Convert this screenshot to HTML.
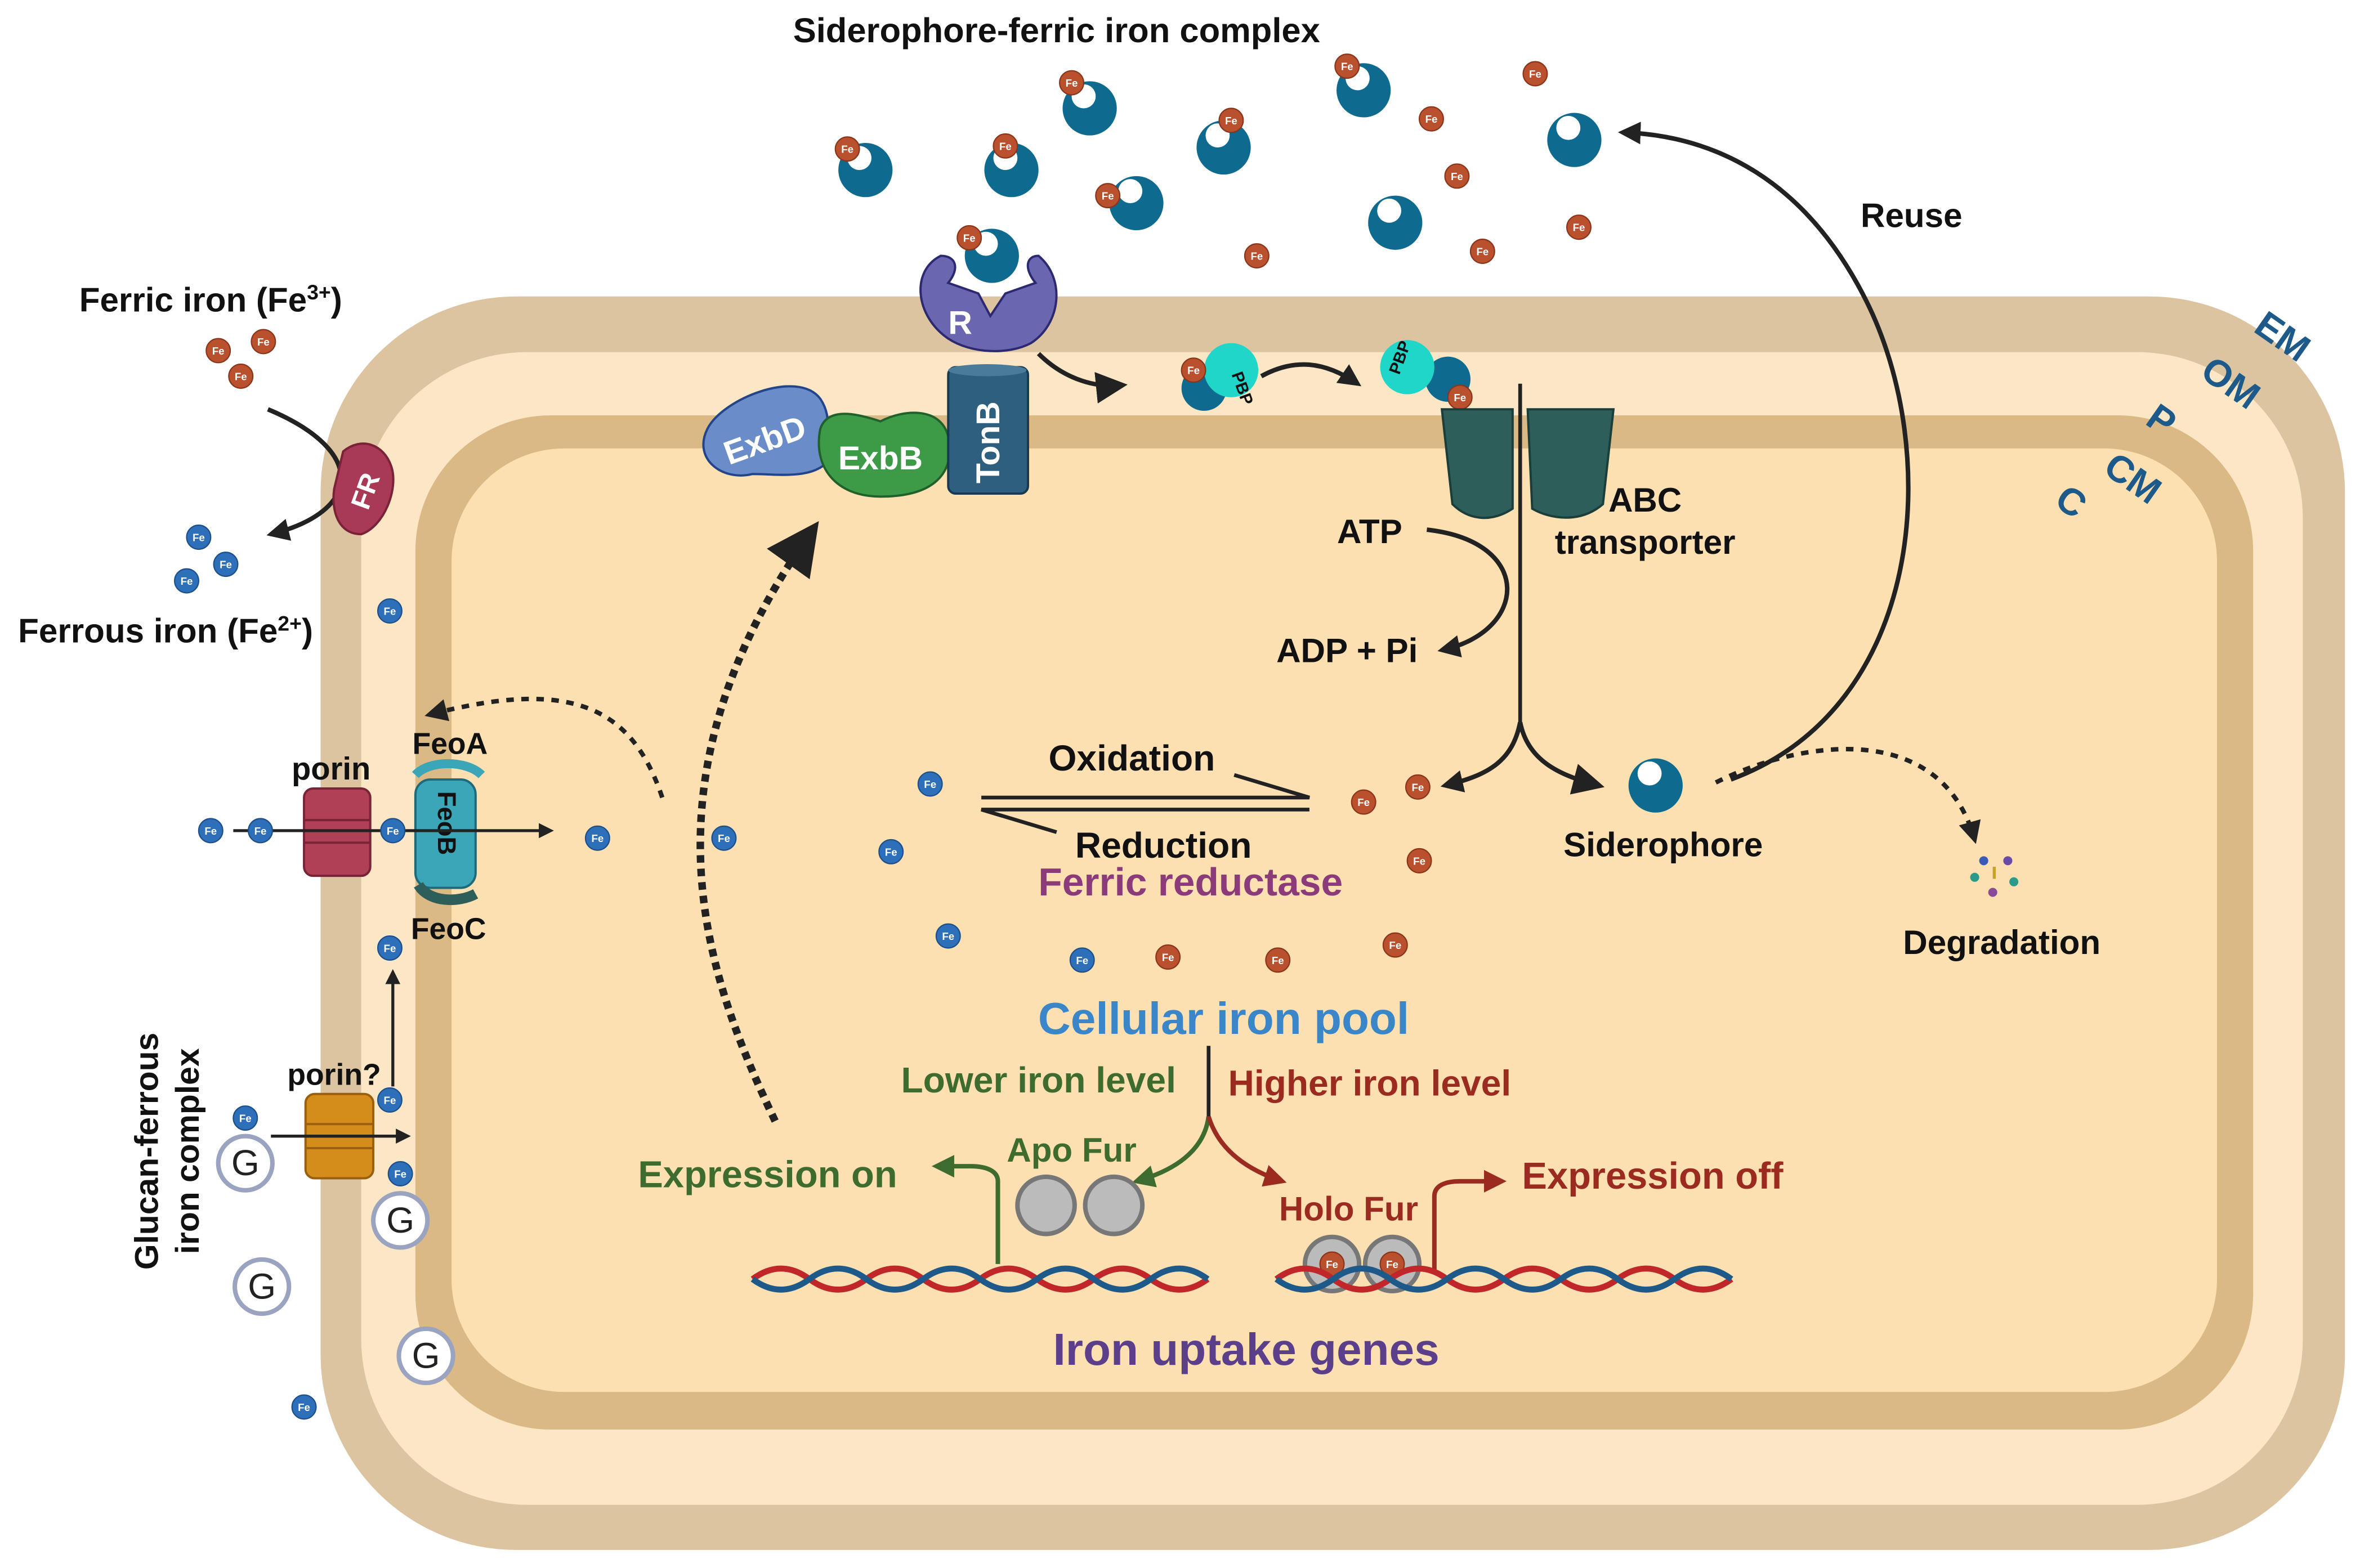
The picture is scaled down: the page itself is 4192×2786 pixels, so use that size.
<!DOCTYPE html>
<html><head><meta charset="utf-8"><style>
html,body{margin:0;padding:0;background:#fff}
svg{display:block}
text{font-family:"Liberation Sans",sans-serif;font-weight:bold}
</style></head><body>
<svg width="4192" height="2786" viewBox="0 0 1568 1042" preserveAspectRatio="none" xmlns="http://www.w3.org/2000/svg">
<defs>
<marker id="ah" viewBox="0 0 10 10" refX="8" refY="5" markerWidth="5" markerHeight="5" orient="auto"><path d="M0,0L10,5L0,10z" fill="#222"/></marker>
<marker id="ahs" viewBox="0 0 10 10" refX="8" refY="5" markerWidth="7" markerHeight="7" orient="auto"><path d="M0,0L10,5L0,10z" fill="#222"/></marker>
<marker id="ag" viewBox="0 0 10 10" refX="8" refY="5" markerWidth="5" markerHeight="5" orient="auto"><path d="M0,0L10,5L0,10z" fill="#3e6b2e"/></marker>
<marker id="ar" viewBox="0 0 10 10" refX="8" refY="5" markerWidth="5" markerHeight="5" orient="auto"><path d="M0,0L10,5L0,10z" fill="#9b2a20"/></marker>
<g id="fer"><circle r="8" fill="#b9502e" stroke="#8a3418" stroke-width="0.8"/><text x="0" y="2.6" font-size="7" fill="#fff" text-anchor="middle">Fe</text></g>
<g id="feb"><circle r="8" fill="#2d6fb8" stroke="#1c4f8a" stroke-width="0.8"/><text x="0" y="2.6" font-size="7" fill="#fff" text-anchor="middle">Fe</text></g>
<g id="sid"><circle r="18" fill="#0e6a8e"/><circle cx="-4" cy="-8" r="8" fill="#fff"/></g>
<g id="G"><circle r="18" fill="#fff" stroke="#9aa3bf" stroke-width="3"/><text y="8" font-size="24" text-anchor="middle" fill="#222" style="font-weight:normal">G</text></g>
</defs>
<rect x="213" y="197" width="1345" height="833" rx="130" fill="#dcc4a0"/>
<rect x="240" y="234" width="1290" height="766" rx="110" fill="#fbe6c6"/>
<rect x="276" y="276" width="1221" height="674" rx="90" fill="#dbb985"/>
<rect x="300" y="298" width="1173" height="627" rx="75" fill="#fde0b1"/>
<g fill="#1d5a8a" font-size="25">
<text x="1495" y="232" transform="rotate(35 1515 228)">EM</text>
<text x="1460" y="264" transform="rotate(35 1483 258)">OM</text>
<text x="1428" y="290" transform="rotate(35 1440 280)">P</text>
<text x="1398" y="328" transform="rotate(35 1420 318)">CM</text>
<text x="1368" y="344" transform="rotate(35 1380 333)">C</text>
</g>
<text x="702" y="28" font-size="23" text-anchor="middle" fill="#111">Siderophore-ferric iron complex</text>
<use href="#sid" x="575" y="113"/><use href="#sid" x="672" y="113"/><use href="#sid" x="724" y="72"/><use href="#sid" x="755" y="135"/><use href="#sid" x="813" y="98"/><use href="#sid" x="906" y="60"/><use href="#sid" x="927" y="148"/><use href="#sid" x="1046" y="93"/>
<use href="#fer" x="563" y="99"/><use href="#fer" x="668" y="97"/><use href="#fer" x="712" y="55"/><use href="#fer" x="736" y="130"/><use href="#fer" x="818" y="80"/><use href="#fer" x="895" y="44"/><use href="#fer" x="951" y="79"/><use href="#fer" x="968" y="117"/><use href="#fer" x="985" y="167"/><use href="#fer" x="1020" y="49"/><use href="#fer" x="1049" y="151"/><use href="#fer" x="835" y="170"/>
<path d="M1150,518 C1280,470 1290,300 1240,200 C1200,120 1140,90 1078,88" fill="none" stroke="#222" stroke-width="3" marker-end="url(#ah)"/>
<text x="1270" y="151" font-size="22.5" text-anchor="middle" fill="#111">Reuse</text>
<text x="140" y="207" font-size="22.5" text-anchor="middle" fill="#111">Ferric iron (Fe<tspan font-size="14" dy="-8">3+</tspan><tspan dy="8">)</tspan></text>
<use href="#fer" x="145" y="233"/><use href="#fer" x="175" y="227"/><use href="#fer" x="160" y="250"/>
<path d="M178,272 C245,300 240,340 180,355" fill="none" stroke="#222" stroke-width="3" marker-end="url(#ah)"/>
<path d="M228,300 C240,290 255,295 260,310 C265,325 255,350 240,355 C225,355 220,340 222,325z" fill="#a93a55" stroke="#7a2238" stroke-width="1.5"/>
<text x="242" y="333" font-size="18" fill="#fff" text-anchor="middle" transform="rotate(-70 242 326)">FR</text>
<use href="#feb" x="132" y="357"/><use href="#feb" x="150" y="375"/><use href="#feb" x="124" y="386"/>
<text x="110" y="427" font-size="22.5" text-anchor="middle" fill="#111">Ferrous iron (Fe<tspan font-size="14" dy="-8">2+</tspan><tspan dy="8">)</tspan></text>
<use href="#feb" x="259" y="406"/>
<path d="M625,170 C605,180 608,210 630,225 C645,235 670,236 685,228 C705,215 708,185 690,170 C682,170 680,178 688,188 L668,195 L658,210 L650,195 L630,188 C638,178 635,170 625,170z" fill="#6a66b0" stroke="#2b2a70" stroke-width="1.5"/>
<use href="#sid" x="659" y="170"/>
<use href="#fer" x="644" y="158"/>
<text x="638" y="222" font-size="22" fill="#fff" text-anchor="middle">R</text>
<path d="M470,285 C480,265 530,245 545,265 C555,280 545,290 555,300 C545,320 520,315 500,315 C480,320 460,305 470,285z" fill="#6a8cc8" stroke="#22448a" stroke-width="1.5"/>
<text x="508" y="300" font-size="22" fill="#fff" text-anchor="middle" transform="rotate(-20 508 292)">ExbD</text>
<path d="M545,285 C550,270 570,275 585,280 C600,272 625,270 630,290 C635,315 620,330 585,330 C555,330 540,310 545,285z" fill="#3d9b48" stroke="#20602a" stroke-width="1.5"/>
<text x="585" y="312" font-size="22" fill="#fff" text-anchor="middle">ExbB</text>
<rect x="630" y="244" width="53" height="84" rx="5" fill="#2f5f7f" stroke="#173a52" stroke-width="1.5"/>
<ellipse cx="656" cy="246" rx="26" ry="4" fill="#4a7c9a"/>
<text x="656" y="286" font-size="22" fill="#fff" text-anchor="middle" transform="rotate(-90 664 286)">TonB</text>
<path d="M690,235 C705,250 725,258 745,256" fill="none" stroke="#222" stroke-width="3" marker-end="url(#ahs)"/>
<circle cx="800" cy="258" r="15" fill="#0e6a8e"/><circle cx="818" cy="246" r="18" fill="#1fd6c8"/>
<use href="#fer" x="793" y="246"/>
<text x="820" y="250" font-size="11" fill="#111" transform="rotate(70 820 248)">PBP</text>
<path d="M838,250 C860,238 880,240 902,255" fill="none" stroke="#222" stroke-width="3" marker-end="url(#ah)"/>
<circle cx="962" cy="252" r="15" fill="#0e6a8e"/><circle cx="935" cy="244" r="18" fill="#1fd6c8"/>
<use href="#fer" x="970" y="264"/>
<text x="928" y="245" font-size="11" fill="#111" transform="rotate(-70 932 246)">PBP</text>
<path d="M958,272 L1005,272 L1005,338 C990,348 975,345 965,335z" fill="#2e5e5a" stroke="#1a3e3a" stroke-width="1.5"/>
<path d="M1015,272 L1072,272 L1065,335 C1050,348 1030,345 1018,338z" fill="#2e5e5a" stroke="#1a3e3a" stroke-width="1.5"/>
<line x1="1010" y1="255" x2="1010" y2="480" stroke="#222" stroke-width="2.5"/>
<path d="M1010,480 C1005,505 990,515 960,522" fill="none" stroke="#222" stroke-width="3" marker-end="url(#ah)"/>
<path d="M1010,480 C1015,505 1035,515 1062,522" fill="none" stroke="#222" stroke-width="3" marker-end="url(#ahs)"/>
<text x="1093" y="340" font-size="22.5" text-anchor="middle" fill="#111">ABC</text>
<text x="1093" y="368" font-size="22.5" text-anchor="middle" fill="#111">transporter</text>
<text x="910" y="361" font-size="22.5" text-anchor="middle" fill="#111">ATP</text>
<path d="M948,352 C1020,360 1015,420 958,432" fill="none" stroke="#222" stroke-width="3" marker-end="url(#ah)"/>
<text x="895" y="440" font-size="22.5" text-anchor="middle" fill="#111">ADP + Pi</text>
<path d="M652,530 L870,530 L820,515" fill="none" stroke="#222" stroke-width="2.5"/>
<path d="M870,538 L652,538 L702,553" fill="none" stroke="#222" stroke-width="2.5"/>
<text x="752" y="512" font-size="24" text-anchor="middle" fill="#111">Oxidation</text>
<text x="773" y="570" font-size="24" text-anchor="middle" fill="#111">Reduction</text>
<text x="791" y="595" font-size="26" text-anchor="middle" fill="#8b3a7a">Ferric reductase</text>
<use href="#feb" x="618" y="521"/><use href="#feb" x="592" y="566"/><use href="#feb" x="630" y="622"/><use href="#feb" x="719" y="638"/>
<use href="#fer" x="906" y="533"/><use href="#fer" x="942" y="523"/><use href="#fer" x="943" y="572"/><use href="#fer" x="776" y="636"/><use href="#fer" x="849" y="638"/><use href="#fer" x="927" y="628"/>
<use href="#sid" x="1100" y="522"/>
<text x="1105" y="569" font-size="22.5" text-anchor="middle" fill="#111">Siderophore</text>
<path d="M1140,520 C1200,490 1290,480 1312,558" fill="none" stroke="#222" stroke-width="3" stroke-dasharray="5,5" marker-end="url(#ah)"/>
<circle cx="1312" cy="583" r="3" fill="#2a9a8a"/><circle cx="1318" cy="572" r="3" fill="#3a5ab8"/><circle cx="1334" cy="572" r="3" fill="#6a4aa8"/><circle cx="1338" cy="586" r="3" fill="#2a9a8a"/><circle cx="1324" cy="593" r="3" fill="#8a4a9a"/><rect x="1324" y="576" width="2" height="8" fill="#c8a02a"/>
<text x="1330" y="634" font-size="22.5" text-anchor="middle" fill="#111">Degradation</text>
<text x="813" y="687" font-size="30" text-anchor="middle" fill="#3a86c8">Cellular iron pool</text>
<text x="690" y="726" font-size="24" text-anchor="middle" fill="#3e6b2e">Lower iron level</text>
<text x="910" y="728" font-size="24" text-anchor="middle" fill="#9b2a20">Higher iron level</text>
<line x1="803" y1="695" x2="803" y2="742" stroke="#222" stroke-width="2.5"/>
<path d="M803,742 C800,765 780,778 755,785" fill="none" stroke="#3e6b2e" stroke-width="3" marker-end="url(#ag)"/>
<path d="M803,742 C810,765 830,778 852,785" fill="none" stroke="#9b2a20" stroke-width="3" marker-end="url(#ar)"/>
<text x="712" y="772" font-size="22.5" text-anchor="middle" fill="#3e6b2e">Apo Fur</text>
<circle cx="695" cy="801" r="19" fill="#bbb" stroke="#777" stroke-width="3"/><circle cx="740" cy="801" r="19" fill="#bbb" stroke="#777" stroke-width="3"/>
<text x="896" y="811" font-size="22.5" text-anchor="middle" fill="#9b2a20">Holo Fur</text>
<circle cx="885" cy="840" r="18" fill="#bbb" stroke="#777" stroke-width="3"/><circle cx="925" cy="840" r="18" fill="#bbb" stroke="#777" stroke-width="3"/>
<use href="#fer" x="885" y="840"/><use href="#fer" x="925" y="840"/>
<text x="510" y="789" font-size="25" text-anchor="middle" fill="#3e6b2e">Expression on</text>
<path d="M663,840 L663,785 C663,778 655,775 645,775 L622,775" fill="none" stroke="#3e6b2e" stroke-width="3" marker-end="url(#ag)"/>
<text x="1098" y="790" font-size="25" text-anchor="middle" fill="#9b2a20">Expression off</text>
<path d="M953,845 L953,795 C953,788 960,785 970,785 L998,785" fill="none" stroke="#9b2a20" stroke-width="3" marker-end="url(#ar)"/>
<path d="M500,850 q18.9,-14 37.8,0 t37.8,0 t37.8,0 t37.8,0 t37.8,0 t37.8,0 t37.8,0 t37.8,0" fill="none" stroke="#c0262a" stroke-width="4"/>
<path d="M500,850 q18.9,14 37.8,0 t37.8,0 t37.8,0 t37.8,0 t37.8,0 t37.8,0 t37.8,0 t37.8,0" fill="none" stroke="#1d5a8a" stroke-width="4"/>
<path d="M848,850 q18.9,-14 37.8,0 t37.8,0 t37.8,0 t37.8,0 t37.8,0 t37.8,0 t37.8,0 t37.8,0" fill="none" stroke="#c0262a" stroke-width="4"/>
<path d="M848,850 q18.9,14 37.8,0 t37.8,0 t37.8,0 t37.8,0 t37.8,0 t37.8,0 t37.8,0 t37.8,0" fill="none" stroke="#1d5a8a" stroke-width="4"/>
<text x="828" y="907" font-size="30" text-anchor="middle" fill="#5b3f8a">Iron uptake genes</text>
<path d="M515,745 C470,650 420,520 540,352" fill="none" stroke="#222" stroke-width="5" stroke-dasharray="5,4" marker-end="url(#ahs)"/>
<path d="M440,530 C420,470 380,450 285,475" fill="none" stroke="#222" stroke-width="3" stroke-dasharray="5,5" marker-end="url(#ah)"/>
<text x="220" y="518" font-size="21" text-anchor="middle" fill="#111">porin</text>
<rect x="202" y="524" width="44" height="58" rx="6" fill="#b04055" stroke="#7a2238" stroke-width="1.5"/>
<line x1="202" y1="545" x2="246" y2="545" stroke="#7a2238" stroke-width="1.5"/><line x1="202" y1="560" x2="246" y2="560" stroke="#7a2238" stroke-width="1.5"/>
<rect x="276" y="518" width="40" height="72" rx="10" fill="#3aa6b8" stroke="#1d6a7a" stroke-width="1.5"/>
<path d="M276,515 C285,505 310,505 320,515" fill="none" stroke="#3aa6b8" stroke-width="6"/>
<path d="M278,588 C285,600 305,600 316,594" fill="none" stroke="#2e5e5a" stroke-width="7"/>
<text x="296" y="552" font-size="17" fill="#111" text-anchor="middle" transform="rotate(90 296 547)">FeoB</text>
<text x="299" y="501" font-size="20" text-anchor="middle" fill="#111">FeoA</text>
<text x="298" y="624" font-size="20" text-anchor="middle" fill="#111">FeoC</text>
<line x1="155" y1="552" x2="366" y2="552" stroke="#222" stroke-width="2" marker-end="url(#ah)"/>
<use href="#feb" x="140" y="552"/><use href="#feb" x="173" y="552"/><use href="#feb" x="261" y="552"/><use href="#feb" x="397" y="557"/><use href="#feb" x="481" y="557"/>
<text x="222" y="721" font-size="20" text-anchor="middle" fill="#111">porin?</text>
<rect x="203" y="727" width="45" height="56" rx="6" fill="#d48c1a" stroke="#9a6010" stroke-width="1.5"/>
<line x1="203" y1="747" x2="248" y2="747" stroke="#9a6010" stroke-width="1.5"/><line x1="203" y1="763" x2="248" y2="763" stroke="#9a6010" stroke-width="1.5"/>
<line x1="261" y1="722" x2="261" y2="646" stroke="#222" stroke-width="2" marker-end="url(#ah)"/>
<line x1="180" y1="755" x2="271" y2="755" stroke="#222" stroke-width="2" marker-end="url(#ah)"/>
<use href="#G" x="163" y="773"/><use href="#G" x="266" y="811"/><use href="#G" x="174" y="855"/><use href="#G" x="283" y="901"/>
<use href="#feb" x="163" y="743"/><use href="#feb" x="259" y="630"/><use href="#feb" x="259" y="731"/><use href="#feb" x="266" y="780"/><use href="#feb" x="202" y="935"/>
<text x="105" y="765" font-size="22" text-anchor="middle" fill="#111" transform="rotate(-90 105 765)">Glucan-ferrous</text>
<text x="132" y="765" font-size="22" text-anchor="middle" fill="#111" transform="rotate(-90 132 765)">iron complex</text>
</svg>
</body></html>
